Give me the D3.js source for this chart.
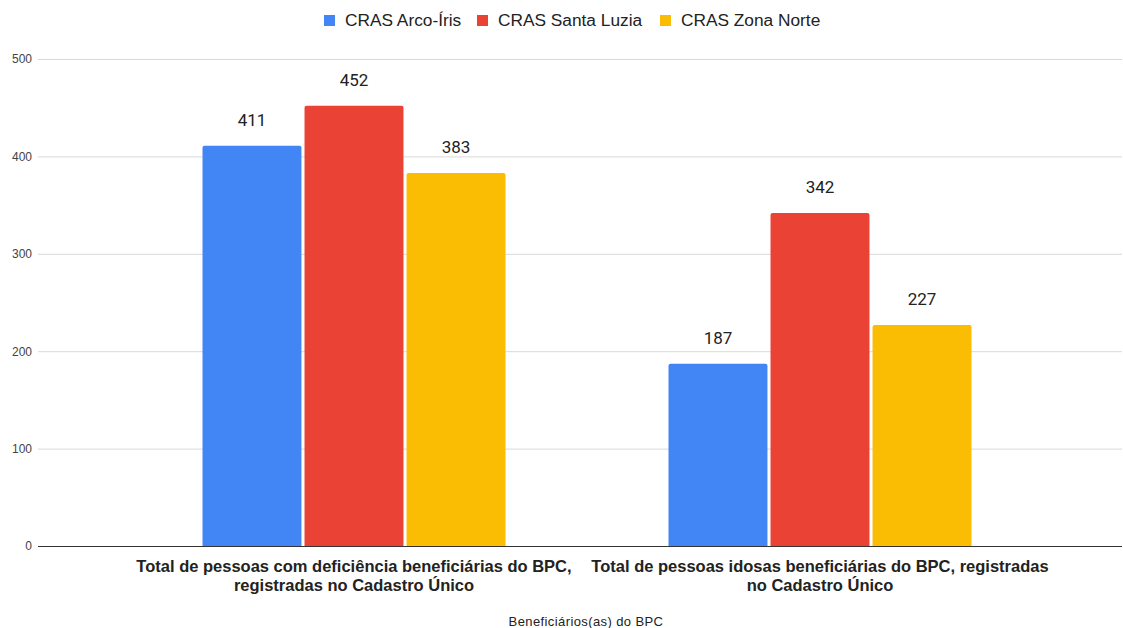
<!DOCTYPE html>
<html><head><meta charset="utf-8">
<script src="https://cdn.jsdelivr.net/npm/d3@7"></script>
<style>body{margin:0;background:#fff}</style>
</head><body>
<svg id="c" width="1123" height="628"></svg>
<script>
const categories = [
  ["Total de pessoas com deficiência beneficiárias do BPC,", "registradas no Cadastro Único"],
  ["Total de pessoas idosas beneficiárias do BPC, registradas", "no Cadastro Único"]
];
const seriesNames = ["CRAS Arco-Íris", "CRAS Santa Luzia", "CRAS Zona Norte"];
const seriesColors = ["#4285f4", "#ea4335", "#fbbc04"];
const arcoIris = [411, 187];
const santaLuzia = [452, 342];
const zonaNorte = [383, 227];
const yTicks = [0, 100, 200, 300, 400, 500];
const xTitle = "Beneficiários(as) do BPC";

const values = [arcoIris, santaLuzia, zonaNorte];
const svg = d3.select("#c");
const gridL = 38, gridR = 1122;
const y = d3.scaleLinear().domain([0, 500]).range([546, 59]);
const x0 = d3.scaleBand().domain(d3.range(categories.length)).range([121, 1053]);
const x1 = d3.scaleBand().domain(d3.range(seriesNames.length)).range([0, 303]).paddingInner(0.03);

// grid
const yAxis = d3.axisLeft(y).tickValues(yTicks).tickSize(-(gridR - gridL)).tickPadding(6);
const ga = svg.append("g").attr("transform", `translate(${gridL},0)`).call(yAxis);
ga.select(".domain").remove();
ga.selectAll(".tick line").attr("stroke", "#d9d9d9").attr("stroke-width", 1);
ga.selectAll(".tick text").attr("fill", "#444").style("font-family", "Liberation Sans, Arial, sans-serif").style("font-size", "12px");

// bars
const groups = svg.append("g").selectAll("g").data(categories).join("g")
  .attr("transform", (d, i) => `translate(${x0(i) + x0.bandwidth() / 2 - 151.5},0)`);
groups.each(function(cat, ci) {
  const g = d3.select(this);
  seriesNames.forEach((s, si) => {
    const v = values[si][ci];
    g.append("path")
      .attr("fill", seriesColors[si])
      .attr("d", () => {
        const bx = x1(si), bw = x1.bandwidth(), top = y(v), bot = y(0), r = 2;
        return `M${bx},${bot}V${top + r}Q${bx},${top} ${bx + r},${top}H${bx + bw - r}Q${bx + bw},${top} ${bx + bw},${top + r}V${bot}Z`;
      });
    g.append("text")
      .attr("x", x1(si) + x1.bandwidth() / 2)
      .attr("y", y(v) - 20)
      .attr("text-anchor", "middle")
      .attr("fill", "#222")
      .style("font-family", "Roboto, sans-serif")
      .style("font-size", "17px")
      .text(v);
  });
});

// baseline
svg.append("line").attr("x1", gridL).attr("x2", gridR).attr("y1", y(0) + 0.5).attr("y2", y(0) + 0.5)
  .attr("stroke", "#333").attr("stroke-width", 1);

// x labels
categories.forEach((lines, i) => {
  const t = svg.append("text").attr("text-anchor", "middle")
    .attr("fill", "#222")
    .style("font-family", "Liberation Sans, Arial, sans-serif")
    .style("font-size", "16.5px").style("font-weight", "bold");
  lines.forEach((l, li) => {
    t.append("tspan").attr("x", x0(i) + x0.bandwidth() / 2).attr("y", 572 + li * 19).text(l);
  });
});

svg.append("text").attr("x", 586).attr("y", 626).attr("text-anchor", "middle")
  .attr("fill", "#222").style("font-family", "Liberation Sans, Arial, sans-serif").style("font-size", "13px")
  .style("letter-spacing", "0.4px")
  .text(xTitle);

// legend
const legX = [324, 477, 660];
seriesNames.forEach((s, i) => {
  svg.append("rect").attr("x", legX[i]).attr("y", 15).attr("width", 11).attr("height", 11).attr("fill", seriesColors[i]);
  svg.append("text").attr("x", legX[i] + 21).attr("y", 26).attr("fill", "#222")
    .style("font-family", "Liberation Sans, Arial, sans-serif").style("font-size", "17.3px").text(s);
});
</script>
</body></html>
